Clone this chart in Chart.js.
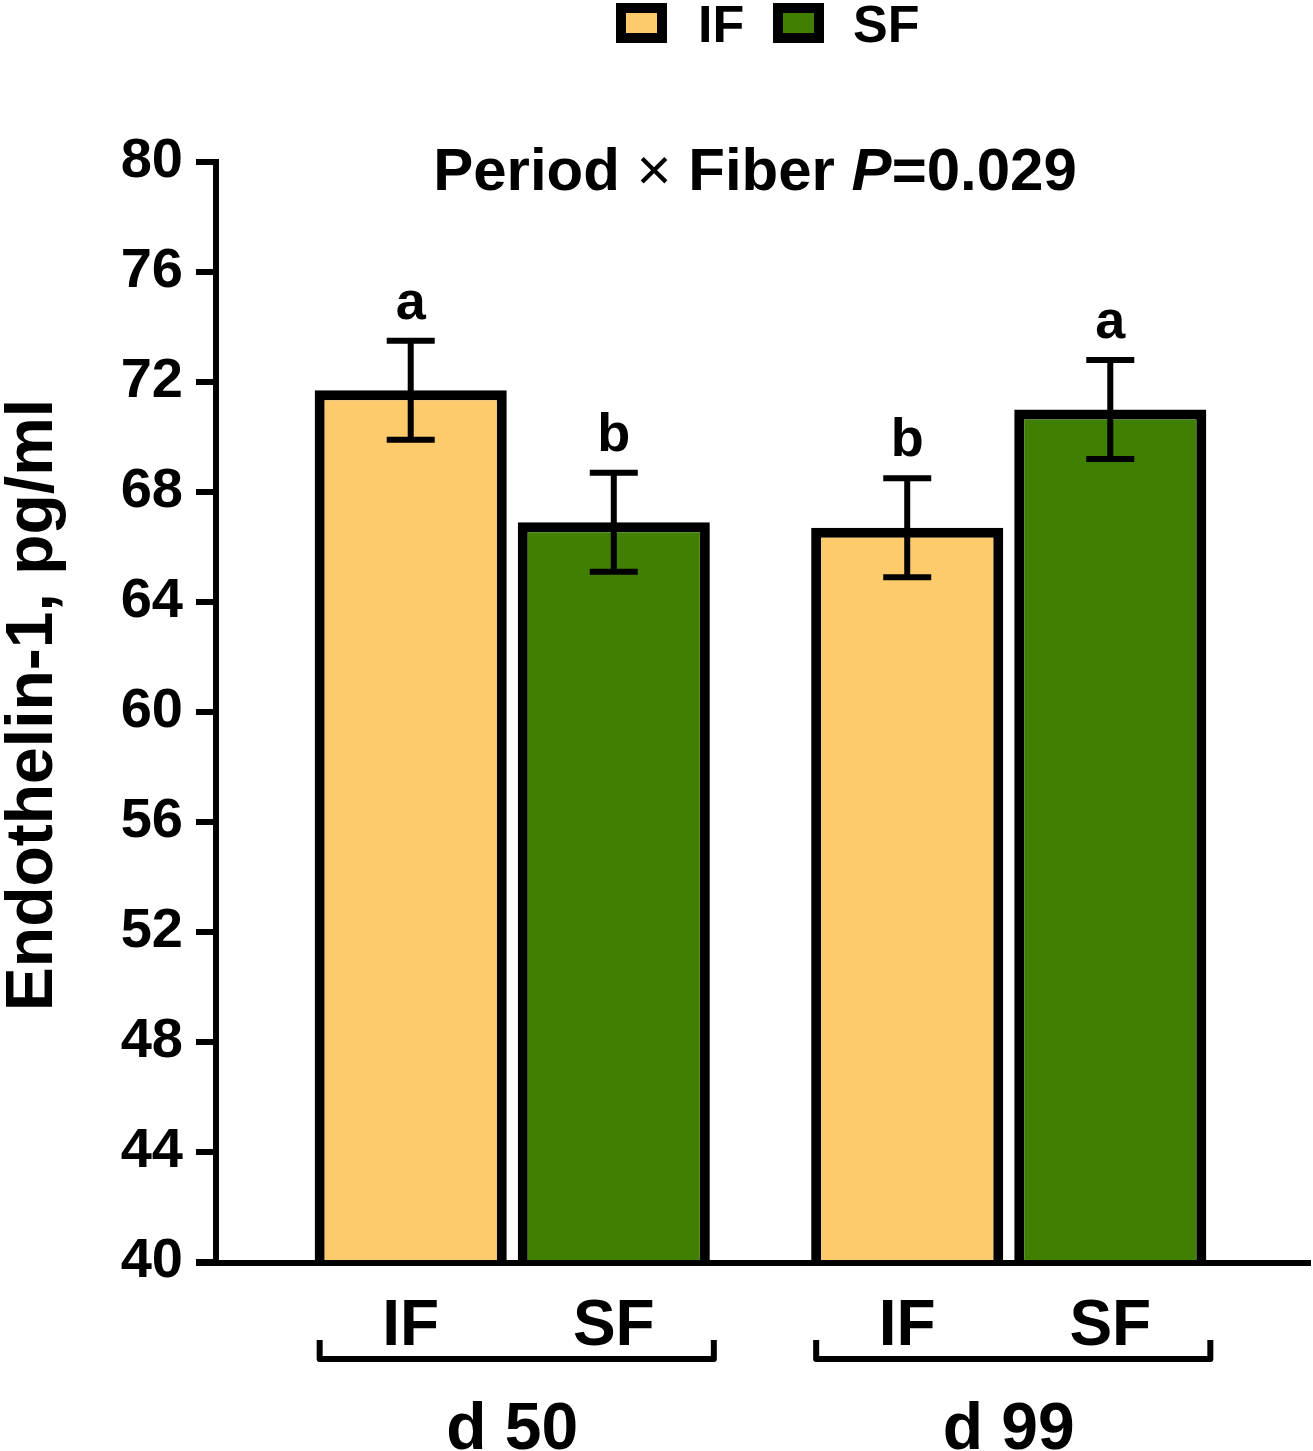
<!DOCTYPE html>
<html>
<head>
<meta charset="utf-8">
<script src="https://cdn.jsdelivr.net/npm/chart.js@4"></script>
<style>
  html, body { margin: 0; padding: 0; background: #fff; }
  canvas { display: block; }
</style>
</head>
<body>
<canvas id="etChart" width="1313" height="1451"></canvas>
<script>
const periods = ['d 50', 'd 99'];
const fibers = ['IF', 'SF'];
const ifMeans = [71.7, 66.7];
const sfMeans = [66.9, 71.0];
const ifSem = [1.8, 1.8];
const sfSem = [1.8, 1.8];
const ifLetters = ['a', 'b'];
const sfLetters = ['b', 'a'];
const yMin = 40, yMax = 80, yStep = 4;

const FONT = '"Liberation Sans", Arial, sans-serif';
const IF_COLOR = '#fdcb6c';
const SF_COLOR = '#417f02';

// error bars, letters, axes, brackets, legend and titles
const decorPlugin = {
  id: 'decor',
  afterDatasetsDraw(chart) {
    const ctx = chart.ctx;
    const y = chart.scales.y;
    const area = chart.chartArea;
    ctx.save();
    ctx.strokeStyle = '#000';
    ctx.fillStyle = '#000';

    // error bars + letters
    chart.data.datasets.forEach((ds, di) => {
      const meta = chart.getDatasetMeta(di);
      meta.data.forEach((bar, i) => {
        const top = y.getPixelForValue(ds.data[i] + ds.sem[i]);
        const bot = y.getPixelForValue(ds.data[i] - ds.sem[i]);
        ctx.lineWidth = 6;
        ctx.beginPath();
        ctx.moveTo(bar.x, top); ctx.lineTo(bar.x, bot);
        ctx.moveTo(bar.x - 24, top); ctx.lineTo(bar.x + 24, top);
        ctx.moveTo(bar.x - 24, bot); ctx.lineTo(bar.x + 24, bot);
        ctx.stroke();
        ctx.font = 'bold 54px ' + FONT;
        ctx.textAlign = 'center';
        ctx.textBaseline = 'alphabetic';
        ctx.fillText(ds.letters[i], bar.x, top - 22);
      });
    });

    // axes
    const axX = 216;
    ctx.lineWidth = 6;
    ctx.lineCap = 'butt';
    ctx.beginPath();
    ctx.moveTo(axX, y.getPixelForValue(yMax) - 3);
    ctx.lineTo(axX, area.bottom + 4);
    ctx.moveTo(196, area.bottom + 1);
    ctx.lineTo(1311, area.bottom + 1);
    for (let v = yMin; v <= yMax; v += yStep) {
      const py = y.getPixelForValue(v);
      ctx.moveTo(196, py); ctx.lineTo(axX, py);
    }
    ctx.stroke();

    // sub labels and brackets
    const m0 = chart.getDatasetMeta(0), m1 = chart.getDatasetMeta(1);
    periods.forEach((p, i) => {
      const b0 = m0.data[i], b1 = m1.data[i];
      ctx.font = 'bold 64px ' + FONT;
      ctx.textAlign = 'center';
      ctx.textBaseline = 'alphabetic';
      ctx.fillText(fibers[0], b0.x, 1345);
      ctx.fillText(fibers[1], b1.x, 1345);
      const l = b0.x - b0.width / 2 + 5;
      const r = b1.x + b1.width / 2 + 4;
      ctx.lineWidth = 6;
      ctx.lineJoin = 'round';
      ctx.beginPath();
      ctx.moveTo(l, 1340); ctx.lineTo(l, 1359); ctx.lineTo(r, 1359); ctx.lineTo(r, 1340);
      ctx.stroke();
    });

    // legend
    const legendItems = [
      { x: 616, tx: 698, ds: chart.data.datasets[0] },
      { x: 773, tx: 853, ds: chart.data.datasets[1] }
    ];
    legendItems.forEach(it => {
      ctx.fillStyle = '#000';
      ctx.fillRect(it.x, 3, 51, 40);
      ctx.fillStyle = it.ds.backgroundColor;
      ctx.fillRect(it.x + 10, 13, 31, 20);
      ctx.fillStyle = '#000';
      ctx.font = 'bold 52px ' + FONT;
      ctx.textAlign = 'left';
      ctx.textBaseline = 'alphabetic';
      ctx.fillText(it.ds.label, it.tx, 42);
    });

    // title with italic P
    const parts = [
      ['Period ', 'bold 60px '],
      ['\u00d7', '60px '],
      [' Fiber ', 'bold 60px '],
      ['P', 'italic bold 60px '],
      ['=0.029', 'bold 60px ']
    ];
    let total = 0;
    parts.forEach(pt => { ctx.font = pt[1] + FONT; total += ctx.measureText(pt[0]).width; });
    let tx = 755 - total / 2;
    ctx.textAlign = 'left';
    parts.forEach(pt => {
      ctx.font = pt[1] + FONT;
      ctx.fillText(pt[0], tx, 190);
      tx += ctx.measureText(pt[0]).width;
    });

    // y title
    ctx.save();
    ctx.translate(34, 705);
    ctx.rotate(-Math.PI / 2);
    ctx.font = 'bold 66px ' + FONT;
    ctx.textAlign = 'center';
    ctx.textBaseline = 'middle';
    ctx.fillText('Endothelin-1, pg/ml', 0, 0);
    ctx.restore();

    ctx.restore();
  }
};

new Chart(document.getElementById('etChart').getContext('2d'), {
  type: 'bar',
  data: {
    labels: periods,
    datasets: [
      {
        label: fibers[0],
        data: ifMeans,
        sem: ifSem,
        letters: ifLetters,
        backgroundColor: IF_COLOR,
        borderColor: '#000',
        borderWidth: 10,
        borderSkipped: 'bottom'
      },
      {
        label: fibers[1],
        data: sfMeans,
        sem: sfSem,
        letters: sfLetters,
        backgroundColor: SF_COLOR,
        borderColor: '#000',
        borderWidth: 10,
        borderSkipped: 'bottom'
      }
    ]
  },
  options: {
    responsive: false,
    animation: false,
    devicePixelRatio: 1,
    categoryPercentage: 0.818,
    barPercentage: 0.946,
    layout: { padding: { top: 162, right: 56, bottom: 0, left: 0 } },
    plugins: {
      legend: { display: false },
      tooltip: { enabled: false }
    },
    scales: {
      x: {
        grid: { display: false, drawTicks: false },
        border: { display: false },
        ticks: {
          color: '#000',
          font: { family: FONT, size: 66, weight: 'bold' },
          padding: 129
        },
        afterFit(scale) { scale.height = 189; }
      },
      y: {
        min: yMin,
        max: yMax,
        grid: { display: false, drawTicks: false },
        border: { display: false },
        ticks: {
          stepSize: yStep,
          color: '#000',
          padding: 81,
          font: { family: FONT, size: 56, weight: 'bold' }
        },
        afterFit(scale) { scale.width = 264; }
      }
    }
  },
  plugins: [decorPlugin]
});
</script>
</body>
</html>
